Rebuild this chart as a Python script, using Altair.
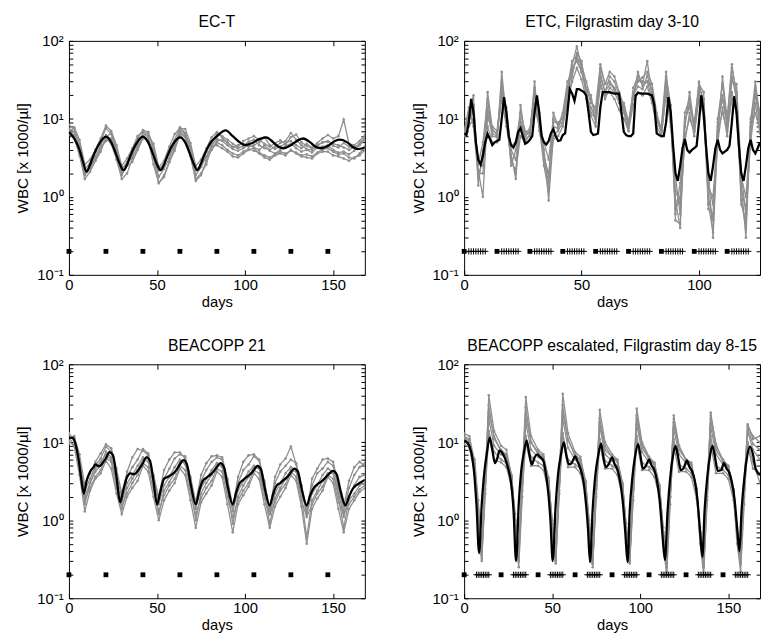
import altair as alt
import pandas as pd

FONT = "Liberation Sans"
GRAY = "#8f8f8f"
MARK_LEVEL = 0.2

# ---------------- Panel 1: EC-T ----------------
DAYS_3 = [0, 3, 6, 9, 12, 15, 18, 21, 24, 27, 30, 33, 36, 39, 42, 45, 48, 51, 54, 57,
          60, 63, 66, 69, 72, 75, 78, 81, 84, 87, 90, 93, 96, 99, 102, 105, 108, 111, 114, 117,
          120, 123, 126, 129, 132, 135, 138, 141, 144, 147, 150, 153, 156, 159, 162, 165, 168]

P1_G1 = [7.5, 6.8, 4.2, 2.0, 2.4, 3.3, 4.6, 6.2, 5.4, 3.4, 1.9, 2.5, 3.5, 4.8,
         6.6, 5.8, 3.5, 1.8, 2.3, 3.1, 4.9, 6.8, 6.0, 3.6, 1.9, 2.4, 3.3, 4.6,
         5.6, 5.2, 4.6, 4.1, 3.9, 4.2, 4.6, 4.3, 4.0, 4.6, 3.9, 3.6, 4.0, 4.5,
         4.8, 4.2, 3.8, 4.0, 3.7, 4.3, 4.4, 4.6, 4.0, 3.7, 3.8, 3.5, 3.9, 4.6, 5.4]
P1_G2 = [8.4, 7.4, 4.8, 2.3, 2.7, 3.8, 5.2, 7.6, 6.4, 3.9, 2.2, 2.8, 4.0, 5.6,
         7.2, 6.8, 4.2, 2.3, 2.6, 3.8, 5.4, 7.8, 6.6, 4.4, 2.2, 2.5, 3.8, 5.0,
         6.4, 6.0, 5.4, 4.8, 4.4, 5.2, 5.6, 6.0, 5.4, 4.8, 4.4, 4.9, 5.3, 4.7,
         5.8, 6.3, 5.0, 4.5, 4.2, 4.9, 5.6, 6.2, 5.6, 6.0, 9.8, 4.8, 4.6, 5.2, 6.2]
P1_G3 = [6.4, 5.6, 3.4, 1.7, 2.1, 2.9, 4.2, 5.6, 4.8, 3.0, 1.7, 2.0, 3.1, 4.4,
         5.8, 5.0, 3.2, 1.5, 1.8, 2.8, 4.2, 6.2, 5.2, 3.3, 1.6, 1.9, 2.9, 4.0,
         5.0, 4.6, 4.0, 3.6, 3.4, 3.8, 4.1, 3.9, 3.7, 3.4, 3.2, 3.5, 3.8, 3.6,
         3.9, 3.7, 3.4, 3.5, 3.3, 3.7, 4.0, 4.2, 3.8, 3.5, 3.6, 3.2, 3.1, 3.6, 4.4]
P1_G4 = [7.0, 6.2, 4.4, 2.1, 2.5, 2.9, 3.8, 5.8, 6.6, 4.2, 2.3, 2.7, 3.2, 4.2,
         6.0, 6.8, 4.0, 2.2, 2.6, 3.5, 4.4, 7.2, 6.4, 4.1, 2.2, 2.6, 3.2, 4.2,
         5.2, 5.4, 5.0, 4.3, 4.6, 4.8, 4.4, 4.6, 5.0, 5.8, 4.6, 4.1, 4.4, 4.9,
         5.2, 4.6, 4.2, 4.8, 4.3, 4.6, 5.0, 5.1, 4.5, 4.3, 4.9, 4.4, 4.2, 4.7, 5.6]
P1_G5 = [6.8, 7.8, 5.4, 2.6, 3.0, 4.0, 5.6, 8.2, 7.0, 4.6, 2.5, 3.1, 4.2, 6.0,
         7.0, 6.2, 4.8, 2.4, 2.9, 4.4, 6.4, 7.6, 7.4, 4.9, 2.5, 3.0, 4.2, 5.8,
         6.8, 5.8, 4.9, 4.4, 4.2, 4.5, 5.1, 5.4, 4.6, 4.2, 4.0, 4.4, 4.9, 5.2,
         6.6, 5.4, 4.6, 4.1, 4.0, 4.5, 5.0, 5.2, 4.8, 4.6, 4.3, 4.0, 4.3, 4.8, 5.8]
P1_G6 = [6.6, 6.0, 3.6, 1.9, 2.3, 3.0, 4.2, 5.2, 5.6, 3.6, 2.0, 2.5, 2.8, 4.0,
         5.6, 5.4, 2.6, 1.5, 1.9, 2.8, 3.9, 6.4, 5.8, 3.4, 1.7, 2.0, 2.6, 4.4,
         4.6, 4.2, 3.8, 3.3, 3.2, 3.6, 4.0, 4.2, 3.6, 3.2, 3.0, 3.4, 3.6, 3.4,
         4.0, 3.6, 3.3, 3.2, 3.1, 3.6, 3.8, 3.8, 3.4, 3.3, 3.1, 2.9, 3.2, 3.4, 4.0]

P1_BLACK_DAYS = [0, 3, 6, 8, 10, 12, 14, 17, 21, 24, 27, 29, 31, 33, 35, 38,
                 42, 45, 48, 50, 52, 54, 56, 59, 63, 66, 69, 71, 73, 75, 77, 80,
                 84, 89, 93, 97, 100, 104, 108, 112, 116, 119, 122, 126, 130, 133,
                 137, 140, 143, 147, 151, 154, 158, 161, 164, 168]
P1_BLACK = [6.8, 5.6, 4.0, 2.8, 2.1, 2.6, 3.4, 4.7, 5.9, 5.0, 3.4, 2.6, 2.2, 2.6, 3.4, 4.7,
            5.9, 5.0, 3.4, 2.6, 2.2, 2.6, 3.4, 4.7, 5.8, 5.0, 3.4, 2.6, 2.2, 2.7, 3.5, 4.8,
            6.0, 7.1, 6.0, 5.0, 4.6, 4.9, 5.5, 5.8, 5.0, 4.4, 4.2, 4.6, 5.3, 5.6,
            5.0, 4.4, 4.2, 4.5, 5.2, 5.4, 5.0, 4.4, 4.1, 4.3]
P1_CHEMO = [0, 21, 42, 63, 84, 105, 126, 147]

# ---------------- Panel 2: ETC, Filgrastim day 3-10 ----------------
DAYS_2 = [0, 2, 4, 6, 8, 10, 12, 14, 16, 18, 20, 22, 24, 26, 28, 30, 32, 34, 36, 38,
          40, 42, 44, 46, 48, 50, 52, 54, 56, 58, 60, 62, 64, 66, 68, 70, 72, 74, 76, 78,
          80, 82, 84, 86, 88, 90, 92, 94, 96, 98, 100, 102, 104, 106, 108, 110, 112, 114, 116, 118,
          120, 122, 124, 126]

P2_G1 = [6.5, 9.0, 15.0, 2.2, 1.0, 12.0, 6.0, 5.8, 30.0, 12.0, 2.5, 4.0, 9.0, 5.5,
         6.0, 25.0, 10.0, 4.0, 0.9, 6.0, 7.0, 9.0, 22.0, 50.0, 85.0, 45.0, 20.0, 14.0,
         10.0, 45.0, 28.0, 30.0, 25.0, 18.0, 14.0, 8.0, 20.0, 32.0, 28.0, 55.0, 20.0, 10.0,
         7.0, 28.0, 12.0, 0.9, 0.4, 8.0, 22.0, 8.0, 30.0, 15.0, 2.0, 0.3, 6.0, 35.0,
         10.0, 50.0, 20.0, 1.5, 0.3, 9.0, 30.0, 10.0]
P2_G2 = [6.8, 14.0, 8.0, 1.8, 3.0, 22.0, 7.5, 6.2, 18.0, 8.0, 3.2, 2.0, 15.0, 6.0,
         7.0, 14.0, 8.0, 2.5, 1.2, 12.0, 8.0, 12.0, 30.0, 40.0, 60.0, 50.0, 30.0, 18.0,
         12.0, 35.0, 22.0, 35.0, 30.0, 20.0, 12.0, 7.0, 25.0, 35.0, 30.0, 30.0, 24.0, 9.0,
         8.0, 40.0, 10.0, 0.6, 1.5, 10.0, 14.0, 9.0, 25.0, 18.0, 1.0, 0.5, 8.0, 20.0,
         8.0, 30.0, 28.0, 2.0, 0.6, 6.0, 25.0, 8.0]
P2_G3 = [6.0, 8.0, 10.0, 3.0, 2.5, 8.0, 5.0, 5.0, 40.0, 10.0, 2.8, 2.2, 6.0, 5.0,
         6.5, 30.0, 7.0, 3.5, 1.8, 5.5, 6.0, 8.0, 16.0, 30.0, 45.0, 32.0, 18.0, 11.0,
         8.0, 26.0, 20.0, 22.0, 18.0, 13.0, 10.0, 7.0, 15.0, 22.0, 20.0, 26.0, 16.0, 8.0,
         6.0, 22.0, 8.0, 1.2, 0.8, 5.0, 12.0, 6.0, 20.0, 10.0, 1.5, 0.8, 5.0, 14.0,
         6.0, 22.0, 12.0, 1.2, 0.7, 5.0, 16.0, 6.5]
P2_G4 = [7.0, 12.0, 20.0, 1.4, 4.0, 10.0, 8.0, 7.0, 22.0, 14.0, 4.0, 3.0, 8.0, 6.5,
         7.5, 20.0, 12.0, 3.0, 2.0, 9.0, 9.0, 10.0, 20.0, 45.0, 55.0, 40.0, 25.0, 16.0,
         14.0, 50.0, 28.0, 40.0, 35.0, 22.0, 15.0, 9.0, 22.0, 30.0, 34.0, 40.0, 28.0, 12.0,
         7.0, 35.0, 15.0, 0.5, 0.45, 12.0, 18.0, 7.0, 28.0, 22.0, 0.8, 0.35, 10.0, 28.0,
         9.0, 45.0, 22.0, 0.9, 0.4, 10.0, 22.0, 12.0]
P2_G5 = [6.5, 10.0, 12.0, 2.6, 5.0, 18.0, 6.5, 6.0, 25.0, 9.0, 4.5, 5.0, 12.0, 7.0,
         6.5, 16.0, 9.0, 5.0, 3.0, 10.0, 8.5, 9.0, 15.0, 35.0, 70.0, 55.0, 22.0, 12.0,
         10.0, 30.0, 18.0, 25.0, 22.0, 16.0, 13.0, 8.0, 18.0, 40.0, 26.0, 30.0, 18.0, 10.0,
         6.5, 20.0, 9.0, 1.8, 0.6, 6.0, 10.0, 7.0, 18.0, 12.0, 1.3, 1.0, 7.0, 12.0,
         7.0, 18.0, 15.0, 1.8, 1.0, 7.0, 12.0, 7.0]
P2_G6 = [6.2, 11.0, 14.0, 2.0, 2.0, 14.0, 7.0, 6.5, 20.0, 11.0, 3.5, 1.7, 10.0, 6.0,
         6.8, 22.0, 9.0, 3.0, 1.5, 8.0, 7.5, 11.0, 25.0, 55.0, 65.0, 40.0, 24.0, 20.0,
         9.0, 38.0, 22.0, 28.0, 24.0, 18.0, 16.0, 9.0, 20.0, 26.0, 24.0, 36.0, 22.0, 11.0,
         7.5, 30.0, 11.0, 0.7, 1.0, 9.0, 16.0, 8.0, 22.0, 14.0, 0.7, 0.6, 9.0, 18.0,
         8.5, 35.0, 18.0, 0.8, 0.5, 8.0, 20.0, 9.0]

P2_BLACK_DAYS = [0, 1, 2, 3, 4, 5, 6, 7, 8, 9,
                 10, 11, 12, 13, 14, 15, 16, 17, 18, 19,
                 20, 21, 22, 23, 24, 25, 26, 27, 28, 29,
                 30, 31, 32, 33, 34, 35, 36, 37, 38, 39,
                 40, 41, 42, 43, 44, 45, 46, 47, 48, 49,
                 50, 51, 52, 53, 54, 55, 56, 57, 58, 59,
                 60, 62, 64, 66, 67, 68, 69, 70, 71, 72,
                 73, 74, 76, 78, 80, 81, 82, 83, 84, 85,
                 86, 87, 88, 89, 90, 91, 92, 93, 94, 95,
                 96, 97, 98, 99, 100, 101, 102, 103, 104, 105,
                 106, 107, 108, 109, 110, 111, 112, 113, 114, 115,
                 116, 117, 118, 119, 120, 121, 122, 123, 124, 125, 126]
P2_BLACK = [6.5, 6.2, 9.0, 18.0, 12.0, 5.0, 3.0, 2.6, 3.4, 5.0,
            6.4, 5.5, 4.6, 5.0, 5.2, 5.4, 10.0, 19.0, 12.0, 6.0,
            4.6, 4.3, 5.0, 6.8, 7.6, 6.0, 4.8, 5.0, 5.4, 6.0,
            12.0, 20.0, 12.0, 6.0, 5.0, 4.7, 5.2, 6.6, 7.4, 6.0,
            5.2, 5.3, 6.2, 6.5, 12.0, 24.0, 21.0, 17.0, 24.0, 24.0,
            23.0, 22.0, 20.0, 12.0, 6.8, 6.2, 6.3, 6.5, 14.0, 22.0,
            22.0, 22.0, 21.0, 21.0, 12.0, 6.8, 6.2, 6.0, 6.0, 6.5,
            20.0, 21.5, 21.0, 21.0, 20.0, 15.0, 6.5, 6.2, 6.0, 6.0,
            9.0, 19.0, 12.0, 4.5, 2.0, 1.6, 2.5, 4.2, 5.5, 4.0,
            3.7, 4.0, 4.2, 4.5, 9.0, 20.0, 12.0, 4.5, 2.0, 1.6,
            2.5, 4.2, 5.4, 4.0, 3.6, 3.8, 4.0, 4.5, 9.0, 19.5,
            12.0, 4.5, 2.0, 1.6, 2.5, 4.2, 5.4, 4.0, 3.6, 4.2, 5.0]
P2_CHEMO = [0, 14, 28, 42, 56, 70, 84, 98, 112]
P2_GCSF = [2, 3, 4, 5, 6, 7, 8, 9, 16, 17, 18, 19, 20, 21, 22, 23,
           30, 31, 32, 33, 34, 35, 36, 37, 44, 45, 46, 47, 48, 49, 50, 51,
           58, 59, 60, 61, 62, 63, 64, 65, 72, 73, 74, 75, 76, 77, 78, 79,
           86, 87, 88, 89, 90, 91, 92, 93, 100, 101, 102, 103, 104, 105, 106, 107,
           114, 115, 116, 117, 118, 119, 120, 121]

# ---------------- Panel 3: BEACOPP 21 ----------------
P3_G1 = [12.5, 11.0, 4.5, 1.6, 3.0, 4.2, 5.0, 7.6, 6.4, 3.0, 1.4, 2.6, 3.4, 4.4,
         6.0, 6.8, 2.8, 1.2, 2.4, 3.1, 4.0, 5.6, 5.8, 2.6, 1.0, 2.2, 3.0, 3.8,
         5.2, 5.0, 2.4, 0.9, 2.0, 2.8, 3.6, 4.8, 4.6, 2.2, 0.9, 1.9, 2.6, 3.4,
         4.4, 4.2, 2.0, 0.6, 1.8, 2.4, 3.2, 4.0, 4.0, 2.0, 0.8, 1.8, 2.2, 2.8, 3.0]
P3_G2 = [10.0, 9.4, 6.0, 2.4, 3.4, 5.0, 6.2, 8.8, 7.6, 3.8, 2.0, 3.6, 4.8, 6.0,
         8.2, 7.2, 3.6, 1.8, 3.4, 4.6, 6.2, 7.0, 6.6, 3.4, 1.6, 3.2, 4.4, 5.6,
         6.4, 6.0, 3.2, 1.5, 3.0, 4.4, 5.2, 6.6, 5.8, 3.0, 1.4, 3.0, 4.2, 5.0,
         6.0, 5.4, 2.8, 1.4, 2.8, 4.0, 4.6, 5.6, 5.0, 2.6, 1.3, 2.6, 3.8, 4.8, 5.4]
P3_G3 = [13.0, 10.5, 5.0, 1.8, 2.6, 3.6, 4.4, 6.4, 5.6, 2.6, 1.5, 2.2, 3.0, 3.8,
         5.4, 4.8, 2.4, 1.3, 2.1, 2.8, 3.4, 5.0, 4.4, 2.2, 1.2, 1.9, 2.6, 3.2,
         4.6, 4.2, 2.0, 1.1, 1.8, 2.4, 3.0, 4.4, 4.0, 1.9, 1.2, 1.7, 2.4, 2.9,
         4.2, 3.6, 1.8, 1.1, 1.6, 2.2, 2.7, 3.8, 3.4, 1.7, 1.2, 1.6, 2.0, 2.5, 2.8]
P3_G4 = [11.0, 12.0, 7.0, 2.8, 4.0, 5.6, 7.2, 9.4, 8.4, 4.6, 2.2, 4.2, 6.4, 8.2,
         7.8, 6.8, 3.8, 2.0, 4.4, 6.0, 7.4, 7.4, 6.2, 3.6, 1.7, 3.8, 5.4, 6.6,
         6.8, 6.4, 3.4, 1.5, 3.6, 5.6, 6.8, 7.0, 6.0, 3.2, 1.3, 3.6, 5.2, 6.2,
         8.8, 5.2, 2.8, 1.2, 3.4, 4.6, 6.0, 6.2, 5.6, 2.8, 1.5, 3.2, 4.8, 5.6, 5.0]
P3_G5 = [10.5, 8.8, 3.8, 1.3, 2.4, 3.4, 4.0, 5.8, 4.6, 2.2, 1.2, 2.0, 2.6, 3.2,
         5.0, 4.2, 2.0, 1.0, 1.8, 2.4, 3.0, 4.6, 3.8, 1.8, 0.8, 1.7, 2.2, 2.8,
         4.2, 3.6, 1.6, 0.7, 1.6, 2.1, 2.7, 4.0, 3.4, 1.6, 0.8, 1.5, 2.0, 2.6,
         3.8, 3.2, 1.5, 0.5, 1.4, 1.9, 2.4, 3.6, 3.0, 1.4, 0.7, 1.4, 1.8, 2.3, 2.6]
P3_G6 = [9.6, 11.5, 5.4, 2.0, 3.0, 4.6, 5.6, 7.0, 6.0, 3.2, 1.7, 3.0, 3.8, 5.0,
         6.4, 5.6, 3.0, 1.6, 2.8, 3.6, 4.8, 6.0, 5.2, 2.8, 1.4, 2.6, 3.4, 4.4,
         5.4, 4.8, 2.6, 1.3, 2.4, 3.2, 4.2, 5.0, 4.6, 2.6, 1.2, 2.2, 3.0, 4.0,
         4.8, 4.4, 2.4, 1.2, 2.2, 2.8, 3.8, 4.6, 4.2, 2.3, 1.1, 2.0, 2.8, 3.6, 3.8]

P3_BLACK_DAYS = [0, 2, 4, 5.5, 7, 8.5, 10, 12, 14, 15,
                 17, 19, 21, 23, 25, 27, 29, 31, 33, 35,
                 37, 40, 42, 44, 46, 48, 50, 52, 54, 56,
                 58, 61, 63, 65, 67, 69, 72, 74, 76, 78,
                 80, 82, 84, 86, 88, 90, 93, 95, 97, 99,
                 101, 103, 105, 107, 109, 111, 114, 116, 118, 120,
                 122, 124, 126, 128, 130, 132, 135, 137, 139, 141,
                 143, 145, 147, 150, 152, 154, 157, 159, 161, 163,
                 165, 168]
P3_BLACK = [11.2, 11.5, 9.0, 6.0, 3.4, 2.2, 3.2, 4.2, 4.8, 5.2,
            4.9, 5.4, 6.2, 7.5, 6.8, 3.6, 1.7, 2.5, 3.6, 4.0,
            3.9, 4.6, 5.4, 6.4, 5.8, 3.2, 1.6, 2.4, 3.4, 3.6,
            3.8, 4.4, 5.2, 5.9, 5.2, 3.0, 1.6, 2.4, 3.2, 3.5,
            3.8, 4.2, 4.8, 5.4, 4.8, 2.8, 1.6, 2.3, 3.0, 3.3,
            3.6, 3.9, 4.4, 5.0, 4.5, 2.7, 1.55, 2.2, 2.8, 3.0,
            3.3, 3.6, 4.1, 4.6, 4.2, 2.6, 1.55, 2.1, 2.6, 2.9,
            3.1, 3.4, 3.8, 4.3, 3.9, 2.5, 1.55, 2.0, 2.5, 2.8,
            3.0, 3.3]
P3_CHEMO = [0, 21, 42, 63, 84, 105, 126, 147]

# ---------------- Panel 4: BEACOPP escalated, Filgrastim day 8-15 ----------------
P4_DAYS = [0, 3, 6, 8, 10, 12, 14, 17,
           21, 24, 27, 29, 31, 33, 35, 38,
           42, 45, 48, 50, 52, 54, 56, 59,
           63, 66, 69, 71, 73, 75, 77, 80,
           84, 87, 90, 92, 94, 96, 98, 101,
           105, 108, 111, 113, 115, 117, 119, 122,
           126, 129, 132, 134, 136, 138, 140, 143,
           147, 150, 153, 155, 157, 159, 161, 164,
           168]
P4_G1 = [12.0, 11.0, 5.0, 1.2, 0.35, 3.0, 40.0, 14.0,
         9.0, 8.0, 3.6, 0.9, 0.30, 3.5, 38.0, 12.0,
         8.0, 7.0, 3.2, 0.8, 0.30, 3.0, 42.0, 13.0,
         7.5, 6.5, 3.0, 0.8, 0.28, 2.5, 26.0, 10.0,
         7.0, 6.0, 2.8, 0.7, 0.30, 2.5, 27.0, 10.0,
         6.5, 5.5, 2.6, 0.6, 0.22, 2.0, 22.0, 9.0,
         6.0, 5.5, 2.5, 0.7, 0.25, 2.2, 24.0, 9.0,
         6.0, 5.0, 2.4, 0.6, 0.30, 2.5, 16.0, 12.0,
         10.0]
P4_G2 = [10.5, 9.0, 4.4, 1.0, 0.30, 2.2, 20.0, 9.0,
         7.0, 6.2, 3.0, 0.7, 0.25, 2.0, 18.0, 8.0,
         6.5, 5.8, 2.8, 0.6, 0.28, 2.2, 20.0, 8.5,
         6.0, 5.4, 2.6, 0.6, 0.25, 2.0, 16.0, 7.0,
         5.8, 5.0, 2.4, 0.5, 0.28, 1.8, 17.0, 7.5,
         5.5, 4.8, 2.3, 0.5, 0.20, 1.6, 15.0, 7.0,
         5.4, 4.6, 2.2, 0.5, 0.20, 1.8, 16.0, 7.0,
         5.2, 4.4, 2.0, 0.5, 0.22, 1.6, 14.0, 8.0,
         6.0]
P4_G3 = [11.0, 10.0, 6.0, 1.8, 0.45, 3.6, 14.0, 7.5,
         6.0, 5.4, 3.4, 1.2, 0.40, 3.0, 12.0, 6.5,
         5.5, 5.0, 3.2, 1.0, 0.40, 3.2, 13.0, 6.0,
         5.2, 4.6, 3.0, 1.0, 0.38, 2.8, 11.0, 5.8,
         5.0, 4.4, 2.8, 0.9, 0.40, 2.6, 12.0, 5.5,
         4.8, 4.2, 2.6, 0.8, 0.35, 2.4, 11.0, 5.2,
         4.6, 4.0, 2.5, 0.8, 0.35, 2.4, 12.0, 5.0,
         4.4, 3.8, 2.4, 0.8, 0.40, 2.6, 10.0, 5.6,
         3.0]
P4_G4 = [13.0, 12.0, 5.4, 1.4, 0.40, 4.0, 30.0, 11.0,
         8.0, 7.0, 3.8, 1.0, 0.35, 4.2, 28.0, 10.0,
         7.5, 6.5, 3.5, 0.9, 0.35, 4.0, 30.0, 10.5,
         7.0, 6.0, 3.2, 0.9, 0.32, 3.4, 18.0, 8.0,
         6.5, 5.8, 3.0, 0.8, 0.35, 3.2, 20.0, 8.5,
         6.2, 5.4, 2.8, 0.8, 0.30, 3.0, 18.0, 8.0,
         6.0, 5.2, 2.6, 0.7, 0.30, 3.0, 20.0, 8.0,
         5.8, 5.0, 2.5, 0.7, 0.35, 3.2, 15.0, 9.5,
         8.0]
P4_G5 = [9.5, 8.5, 4.0, 1.0, 0.32, 2.5, 12.0, 6.0,
         5.5, 4.8, 2.6, 0.8, 0.30, 2.4, 10.0, 5.0,
         5.0, 4.4, 2.4, 0.7, 0.30, 2.4, 11.0, 4.8,
         4.8, 4.0, 2.2, 0.7, 0.28, 2.2, 9.5, 4.6,
         4.6, 3.8, 2.0, 0.6, 0.30, 2.0, 10.0, 4.4,
         4.4, 3.6, 2.0, 0.6, 0.25, 2.0, 9.0, 4.2,
         4.2, 3.6, 1.9, 0.6, 0.25, 2.0, 9.5, 4.0,
         4.0, 3.4, 1.8, 0.6, 0.28, 2.0, 9.0, 4.6,
         4.0]
P4_G6 = [11.5, 10.5, 4.8, 1.3, 0.38, 3.2, 24.0, 12.0,
         7.5, 6.8, 3.4, 1.0, 0.32, 3.4, 22.0, 10.0,
         7.0, 6.2, 3.2, 0.9, 0.32, 3.2, 24.0, 11.0,
         6.6, 5.8, 3.0, 0.8, 0.30, 2.8, 20.0, 9.0,
         6.4, 5.6, 2.8, 0.8, 0.30, 2.8, 22.0, 9.5,
         6.0, 5.2, 2.6, 0.7, 0.28, 2.6, 20.0, 9.0,
         5.8, 5.0, 2.5, 0.7, 0.28, 2.6, 22.0, 9.5,
         5.6, 4.8, 2.4, 0.7, 0.30, 2.8, 17.0, 11.0,
         12.0]

P4_BLACK_DAYS = [0, 2, 4, 5.5, 7, 8.5, 10, 11.5, 13, 14.5, 16, 17.5, 19, 20,
                 21.5, 23, 25, 26.5, 28, 29.5, 31, 32.5, 34, 35.5, 37, 38.5, 40, 41.5,
                 43, 45, 46.5, 48, 49, 50.3, 52, 53.5, 55, 56.6, 58, 59.5, 61, 63,
                 64.5, 66, 67.5, 69, 70.3, 71.5, 73, 74.5, 76, 77.8, 79, 80.5, 82, 84,
                 85.5, 87, 88.5, 90, 91.5, 92.8, 94, 95.5, 97, 98.8, 100, 101.5, 103, 105,
                 106.5, 108, 109.5, 111, 112.5, 114, 115.5, 117, 118.5, 120, 121.5, 123, 124.5, 126.5,
                 128, 129.5, 131, 132.5, 134, 135.3, 136.5, 138, 139.5, 141, 142.5, 144, 146, 147.5,
                 149, 150.5, 152, 153.5, 155, 156.3, 157.5, 159, 160.5, 162.3, 164, 165.5, 168]
P4_BLACK = [10.5, 9.8, 7.5, 4.5, 1.6, 0.38, 1.6, 4.2, 7.5, 11.5, 8.0, 5.4, 6.4, 7.8,
            7.4, 6.4, 4.6, 3.2, 1.4, 0.30, 1.6, 4.5, 7.5, 10.5, 7.0, 5.2, 6.4, 7.0,
            6.5, 5.8, 3.8, 2.0, 1.0, 0.30, 1.6, 4.2, 7.0, 10.0, 6.8, 5.2, 5.4, 6.6,
            5.6, 4.6, 3.4, 1.8, 0.8, 0.29, 1.4, 3.8, 6.5, 9.6, 6.5, 4.8, 5.2, 6.4,
            5.2, 4.5, 3.2, 1.8, 0.7, 0.29, 1.3, 3.5, 6.5, 9.5, 7.0, 4.6, 4.9, 6.0,
            5.0, 4.4, 3.2, 1.8, 0.7, 0.31, 1.3, 3.5, 6.5, 9.0, 6.5, 4.4, 4.6, 5.8,
            4.8, 4.2, 3.2, 1.8, 0.7, 0.34, 1.3, 3.5, 6.5, 9.0, 6.4, 4.3, 4.4, 5.4,
            4.6, 4.1, 3.1, 1.9, 0.8, 0.40, 1.3, 3.3, 6.2, 8.8, 7.0, 4.6, 3.8]
P4_CHEMO = [0, 21, 42, 63, 84, 105, 126, 147]
P4_GCSF = [7, 8, 9, 10, 11, 12, 13, 14, 28, 29, 30, 31, 32, 33, 34, 35,
           49, 50, 51, 52, 53, 54, 55, 56, 70, 71, 72, 73, 74, 75, 76, 77,
           91, 92, 93, 94, 95, 96, 97, 98, 112, 113, 114, 115, 116, 117, 118, 119,
           133, 134, 135, 136, 137, 138, 139, 140, 154, 155, 156, 157, 158, 159, 160, 161]

# ---------------- axes / ticks ----------------
Y_TICKS = [0.1, 0.2, 0.3, 0.4, 0.5, 0.6, 0.7, 0.8, 0.9,
           1, 2, 3, 4, 5, 6, 7, 8, 9,
           10, 20, 30, 40, 50, 60, 70, 80, 90, 100]
Y_LABEL_EXPR = ("datum.value == 0.1 ? '10\u207b\u00b9' : datum.value == 1 ? '10\u2070' : "
                "datum.value == 10 ? '10\u00b9' : datum.value == 100 ? '10\u00b2' : ''")


def axis_left():
    return alt.Axis(orient="left", values=Y_TICKS, labelExpr=Y_LABEL_EXPR,
                    title="WBC [x 1000/\u00b5l]", grid=False, domain=False,
                    tickSize=alt.ExprRef("-4"), tickColor="black", tickWidth=1,
                    labelFont=FONT, labelFontSize=15, labelColor="black",
                    labelPadding=10, labelFlush=False, labelOverlap=False,
                    titleFont=FONT, titleFontSize=15.5, titleFontWeight="normal",
                    titleColor="black", titlePadding=6)


def axis_right():
    return alt.Axis(orient="right", values=Y_TICKS, labels=False, title=None,
                    grid=False, domain=False, tickSize=alt.ExprRef("-4"),
                    tickColor="black", tickWidth=1)


def axis_bottom(ticks):
    return alt.Axis(orient="bottom", values=ticks, title="days", grid=False,
                    domain=False, tickSize=alt.ExprRef("-5"), tickColor="black",
                    tickWidth=1, labelFont=FONT, labelFontSize=15, labelColor="black",
                    labelPadding=8, labelFlush=False, labelOverlap=False,
                    titleFont=FONT, titleFontSize=15, titleFontWeight="normal",
                    titleColor="black", titlePadding=2)


def axis_top(ticks):
    return alt.Axis(orient="top", values=ticks, labels=False, title=None,
                    grid=False, domain=False, tickSize=alt.ExprRef("-5"),
                    tickColor="black", tickWidth=1)


def make_panel(title, xmax, xticks, gdays, gseries, bdays, bvals, chemo, gcsf, interp):
    rows = []
    for k, vals in enumerate(gseries):
        for d, v in zip(gdays, vals):
            rows.append({"day": d, "wbc": v, "patient": "p%d" % k})
    gdf = pd.DataFrame(rows)
    bdf = pd.DataFrame({"day": bdays, "wbc": bvals})
    cdf = pd.DataFrame({"day": chemo, "wbc": [MARK_LEVEL] * len(chemo)})

    xs = alt.Scale(domain=[0, xmax], nice=False, zero=False)
    ys = alt.Scale(type="log", domain=[0.1, 100], nice=False)

    gray = alt.Chart(gdf).mark_line(color=GRAY, strokeWidth=1.3, clip=True).encode(
        x=alt.X("day:Q", scale=xs, axis=axis_bottom(xticks)),
        y=alt.Y("wbc:Q", scale=ys, axis=axis_left()),
        detail="patient:N",
    )
    gpts = alt.Chart(gdf).mark_circle(color=GRAY, size=7, opacity=1, clip=True).encode(
        x=alt.X("day:Q", scale=xs, axis=None),
        y=alt.Y("wbc:Q", scale=ys, axis=None),
    )
    black = alt.Chart(bdf).mark_line(color="black", strokeWidth=2.3, interpolate=interp,
                                     clip=True).encode(
        x=alt.X("day:Q", scale=xs, axis=axis_top(xticks)),
        y=alt.Y("wbc:Q", scale=ys, axis=axis_right()),
    )
    sq = alt.Chart(cdf).mark_square(color="black", size=24, opacity=1).encode(
        x=alt.X("day:Q", scale=xs, axis=None),
        y=alt.Y("wbc:Q", scale=ys, axis=None),
    )
    layers = [gray, gpts, black, sq]
    if gcsf:
        pdf = pd.DataFrame({"day": gcsf, "wbc": [MARK_LEVEL] * len(gcsf)})
        plus = alt.Chart(pdf).mark_point(shape="M-1,0L1,0M0,-1L0,1", size=40, filled=False,
                                         color="black", strokeWidth=1, opacity=1).encode(
            x=alt.X("day:Q", scale=xs, axis=None),
            y=alt.Y("wbc:Q", scale=ys, axis=None),
        )
        layers.append(plus)
    return alt.layer(*layers).resolve_axis(x="independent", y="independent").properties(
        width=301, height=238,
        title=alt.TitleParams(title, font=FONT, fontSize=16, fontWeight="normal",
                              color="black", anchor="middle", frame="group", offset=4),
    )


p1 = make_panel("EC-T", 168, [0, 50, 100, 150], DAYS_3,
                [P1_G1, P1_G2, P1_G3, P1_G4, P1_G5, P1_G6],
                P1_BLACK_DAYS, P1_BLACK, P1_CHEMO, None, "monotone")
p2 = make_panel("ETC, Filgrastim day 3-10", 126, [0, 50, 100], DAYS_2,
                [P2_G1, P2_G2, P2_G3, P2_G4, P2_G5, P2_G6],
                P2_BLACK_DAYS, P2_BLACK, P2_CHEMO, P2_GCSF, "linear")
p3 = make_panel("BEACOPP 21", 168, [0, 50, 100, 150], DAYS_3,
                [P3_G1, P3_G2, P3_G3, P3_G4, P3_G5, P3_G6],
                P3_BLACK_DAYS, P3_BLACK, P3_CHEMO, None, "monotone")
p4 = make_panel("BEACOPP escalated, Filgrastim day 8-15", 168, [0, 50, 100, 150], P4_DAYS,
                [P4_G1, P4_G2, P4_G3, P4_G4, P4_G5, P4_G6],
                P4_BLACK_DAYS, P4_BLACK, P4_CHEMO, P4_GCSF, "monotone")

chart = alt.vconcat(
    alt.hconcat(p1, p2, spacing=45),
    alt.hconcat(p3, p4, spacing=45),
    spacing=27,
).properties(
    padding={"left": 7, "top": 0, "right": 0, "bottom": 0},
    background="white",
).configure(font=FONT).configure_view(stroke="black", strokeWidth=1)

chart.save("out.html", embed_options={"renderer": "svg", "actions": False})
